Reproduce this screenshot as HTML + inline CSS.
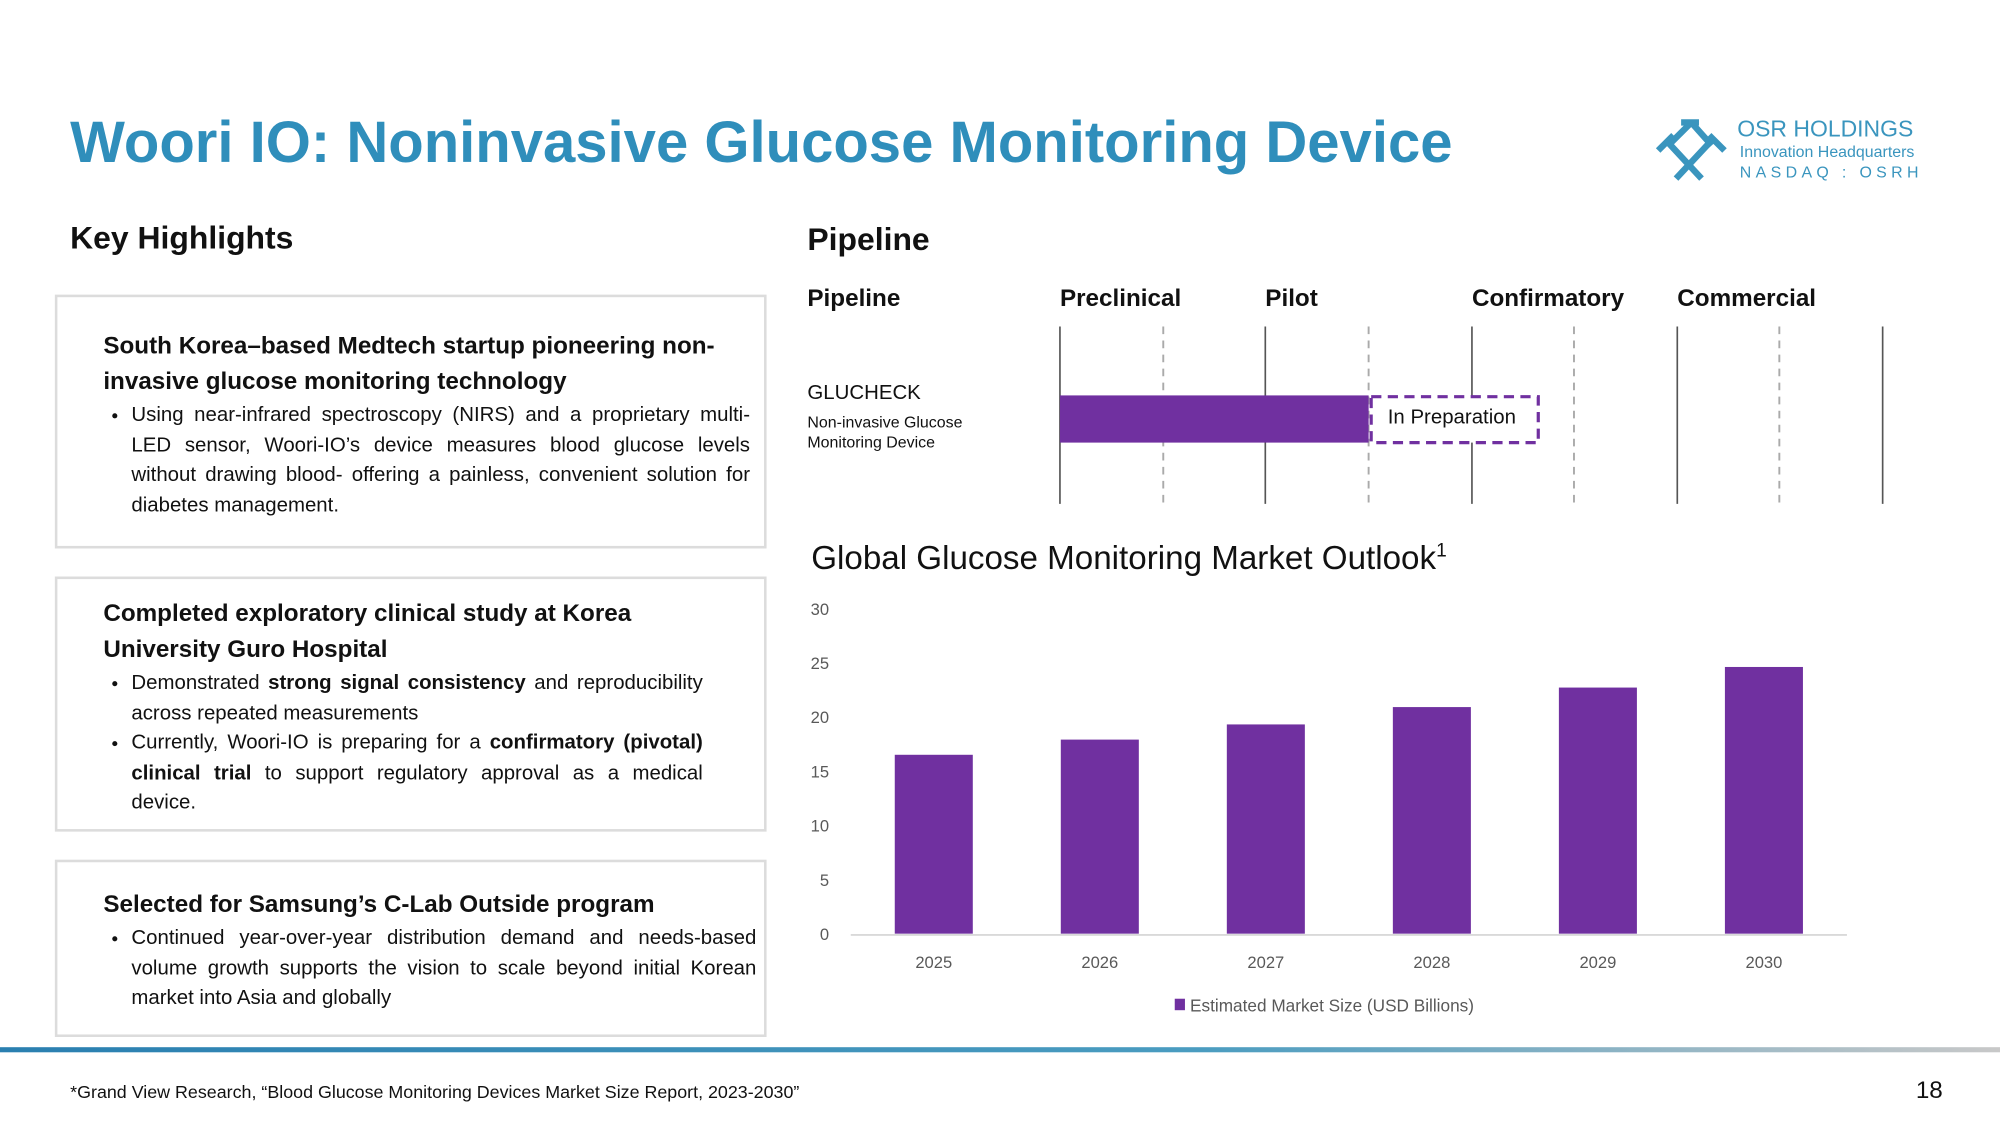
<!DOCTYPE html>
<html><head><meta charset="utf-8">
<style>
html,body{margin:0;padding:0;background:#fff;}
body{width:2000px;height:1125px;overflow:hidden;font-family:"Liberation Sans",sans-serif;}
#wrap{position:absolute;left:0;top:0;width:1568px;height:882px;transform:scale(1.27551);transform-origin:0 0;}
.a{position:absolute;white-space:nowrap;}
.box{position:absolute;border:2px solid #dcdcdc;box-sizing:border-box;}
.h{font-size:19px;font-weight:bold;color:#111;line-height:28px;}
ul{margin:0 0 0 0;padding-left:22px;font-size:16px;line-height:23.5px;color:#111;}
li{text-align:justify;padding-left:0;}
.pl{font-size:19px;font-weight:bold;color:#111;}
</style></head><body>
<div id="wrap">
<div class="a" style="left:55px;top:86px;font-size:45.5px;font-weight:bold;color:#2f8ebb;">Woori IO: Noninvasive Glucose Monitoring Device</div>

<svg class="a" style="left:1298px;top:92px" width="56" height="52" viewBox="0 0 56 52">
<g stroke="#3a95be" stroke-width="5" fill="none"><line x1="10" y1="20" x2="36" y2="48"/><line x1="44" y1="18" x2="16" y2="48"/><line x1="28" y1="4" x2="44" y2="22"/><line x1="28" y1="4" x2="10" y2="22"/><line x1="20" y1="4" x2="34" y2="4"/><line x1="2" y1="26" x2="14" y2="14"/><line x1="42" y1="14" x2="54" y2="26"/></g></svg>
<div class="a" style="left:1362px;top:91px;font-size:18px;color:#3a95be;">OSR HOLDINGS</div>
<div class="a" style="left:1364px;top:112px;font-size:12.5px;color:#3a95be;">Innovation Headquarters</div>
<div class="a" style="left:1364px;top:128px;font-size:12.5px;color:#3a95be;letter-spacing:3.4px;">NASDAQ : OSRH</div>

<div class="a" style="left:55px;top:173px;font-size:25px;font-weight:bold;color:#111;">Key Highlights</div>

<div class="box" style="left:43px;top:231px;width:558px;height:199px;">
<div style="position:absolute;left:36px;top:25px;width:510px;">
<div class="h">South Korea–based Medtech startup pioneering non-invasive glucose monitoring technology</div>
<ul style="width:485px"><li>Using near-infrared spectroscopy (NIRS) and a proprietary multi-LED sensor, Woori-IO’s device measures blood glucose levels without drawing blood- offering a painless, convenient solution for diabetes management.</li></ul></div></div>

<div class="box" style="left:43px;top:452px;width:558px;height:200px;">
<div style="position:absolute;left:36px;top:14px;width:470px;">
<div class="h">Completed exploratory clinical study at Korea University Guro Hospital</div>
<ul><li>Demonstrated <b>strong signal consistency</b> and reproducibility across repeated measurements</li><li>Currently, Woori-IO is preparing for a <b>confirmatory (pivotal) clinical trial</b> to support regulatory approval as a medical device.</li></ul></div></div>

<div class="box" style="left:43px;top:674px;width:558px;height:139px;">
<div style="position:absolute;left:36px;top:20px;width:512px;">
<div class="h">Selected for Samsung’s C-Lab Outside program</div>
<ul><li>Continued year-over-year distribution demand and needs-based volume growth supports the vision to scale beyond initial Korean market into Asia and globally</li></ul></div></div>

<div class="a" style="left:633px;top:174px;font-size:25px;font-weight:bold;color:#111;">Pipeline</div>
<div class="a pl" style="left:633px;top:224px;">Pipeline</div>
<div class="a pl" style="left:831px;top:224px;">Preclinical</div>
<div class="a pl" style="left:992px;top:224px;">Pilot</div>
<div class="a pl" style="left:1154px;top:224px;">Confirmatory</div>
<div class="a pl" style="left:1315px;top:224px;">Commercial</div>
<svg class="a" style="left:0;top:0" width="1568" height="420">
<g stroke="#555" stroke-width="1.3"><line x1="831" y1="256" x2="831" y2="395"/><line x1="992" y1="256" x2="992" y2="395"/><line x1="1154" y1="256" x2="1154" y2="395"/><line x1="1315" y1="256" x2="1315" y2="395"/><line x1="1476" y1="256" x2="1476" y2="395"/></g>
<g stroke="#aaa" stroke-width="1.5" stroke-dasharray="6,5"><line x1="912" y1="256" x2="912" y2="395"/><line x1="1073" y1="256" x2="1073" y2="395"/><line x1="1234" y1="256" x2="1234" y2="395"/><line x1="1395" y1="256" x2="1395" y2="395"/></g>
<rect x="831" y="310" width="242" height="37" fill="#7030a0"/>
<rect x="1075" y="311" width="131" height="36" fill="#fff" stroke="#7030a0" stroke-width="2.5" stroke-dasharray="8,5"/>
</svg>
<div class="a" style="left:1088px;top:319px;font-size:16px;color:#111;">In Preparation</div>
<div class="a" style="left:633px;top:300px;font-size:16px;color:#111;">GLUCHECK</div>
<div class="a" style="left:633px;top:323px;font-size:12.5px;line-height:16px;color:#111;">Non-invasive Glucose<br>Monitoring Device</div>

<div class="a" style="left:636px;top:422px;font-size:26px;color:#111;">Global Glucose Monitoring Market Outlook<sup style="font-size:15px;">1</sup></div>
<svg id="chart" class="a" style="left:0;top:0" width="1568" height="882"></svg>

<div class="a" style="left:0;top:821px;width:1568px;height:4px;background:linear-gradient(90deg,#2a7fb0,#4a9cc0 60%,#c8c8c8);"></div>
<div class="a" style="left:55px;top:848px;font-size:14px;color:#111;">*Grand View Research, “Blood Glucose Monitoring Devices Market Size Report, 2023-2030”</div>
<div class="a" style="left:1502px;top:845px;font-size:19px;color:#111;">18</div>
</div>
<script>
const years = ["2025","2026","2027","2028","2029","2030"];
const marketSize = [16.5, 17.9, 19.3, 20.9, 22.7, 24.6];
const yTicks = [0,5,10,15,20,25,30];
const legendLabel = "Estimated Market Size (USD Billions)";
(function(){
const svg=document.getElementById('chart'),NS="http://www.w3.org/2000/svg";
const x0=667,x1=1448,y0=732,y1=477,yMax=30;
const y=v=>y0-(v/yMax)*(y0-y1);
const band=(x1-x0)/years.length;
const xc=i=>x0+band*(i+0.5);
function mk(t,a){const e=document.createElementNS(NS,t);for(const k in a)e.setAttribute(k,a[k]);svg.appendChild(e);return e;}
yTicks.forEach(v=>{const t=mk('text',{x:650,y:y(v)+5,'text-anchor':'end','font-size':13,fill:'#595959','font-family':'Liberation Sans, sans-serif'});t.textContent=v;

});
const ax=mk('line',{x1:x0,x2:x1,y1:y0+1,y2:y0+1,stroke:'#d9d9d9','stroke-width':1.5});


const bw=band*0.47;
years.forEach((yr,i)=>{
const r=mk('rect',{x:xc(i)-bw/2,y:y(marketSize[i]),width:bw,height:y0-y(marketSize[i]),fill:'#7030a0'});


const t=mk('text',{x:xc(i),y:759,'text-anchor':'middle','font-size':13,fill:'#595959','font-family':'Liberation Sans, sans-serif'});t.textContent=yr;


});
const lk=mk('rect',{x:921,y:783,width:8,height:9,fill:'#7030a0'});


const lt=mk('text',{x:933,y:793,'font-size':13.5,fill:'#595959','font-family':'Liberation Sans, sans-serif'});lt.textContent=legendLabel;


})();
</script>
</body></html>
